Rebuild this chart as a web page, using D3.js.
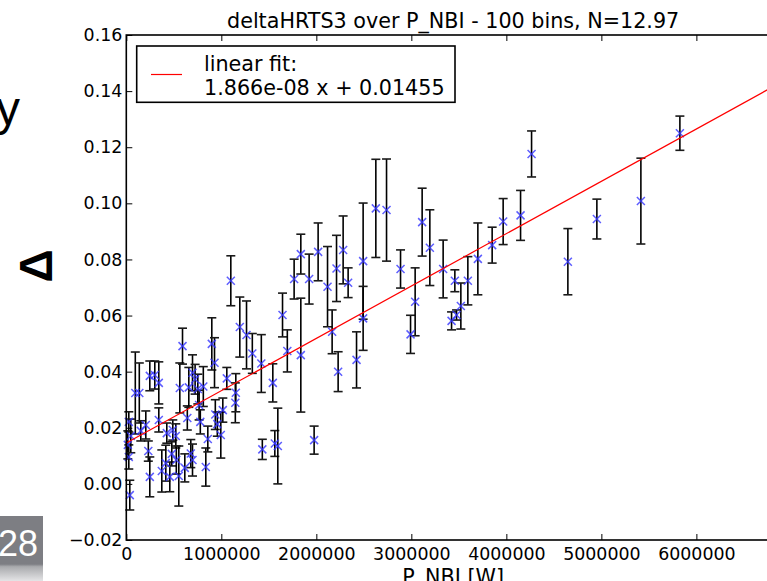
<!DOCTYPE html>
<html>
<head>
<meta charset="utf-8">
<script src="https://cdn.jsdelivr.net/npm/d3@7"></script>
<style>
  html, body { margin: 0; padding: 0; background: #fff; overflow: hidden; }
  svg { display: block; }
</style>
</head>
<body>
<svg id="chart" width="767" height="581"></svg>
<script>
// Binned deltaHRTS3 against neutral-beam power, with per-bin standard errors.
const pnbi = [
  26300, 26300, 36800, 94700, 136800, 152600, 205300, 231600, 247400, 247400,
  300000, 342100, 342100, 373700, 415800, 426300, 457900, 478900, 489500, 521100,
  526300, 552600, 563200, 591600, 615800, 642100, 657900, 678900, 696800, 696800,
  724200, 752600, 810500, 766300, 778900, 836800, 857900, 900000, 928400, 936800,
  957900, 994700, 1015800, 1057900, 1147400, 1152600, 1194700, 1265300, 1100000, 1326300,
  1421100, 1431600, 1542100, 1563200, 1594700, 1644200, 1694700, 1766300, 1836800, 1836800,
  1924200, 2018900, 1976800, 2117900, 2166300, 2212600, 2229500, 2282100, 2334700, 2423200,
  2492600, 2492600, 2626300, 2738900, 2886300, 2991600, 3040000, 3113700, 3194700, 3334700,
  3423200, 3475800, 3457900, 3521100, 3594700, 3700000, 3850500, 3966300, 4149500, 4265300,
  4647400, 4952600, 5415800, 5826300, 15800, 47400
];
const delta = [
  0.0221, 0.0096, -0.0040, 0.0324, 0.0324, 0.0189, 0.0210, 0.0117, 0.0025, 0.0385,
  0.0388, 0.0360, 0.0228, 0.0046, 0.0074, 0.0181, 0.0025, 0.0107, 0.0192, 0.0171,
  0.0085, 0.0028, 0.0342, 0.0491, 0.0057, 0.0235, 0.0344, 0.0108, 0.0085, 0.0396,
  0.0373, 0.0338, 0.0347, 0.0281, 0.0221, 0.0060, 0.0160, 0.0499, 0.0432, 0.0247,
  0.0213, 0.0174, 0.0263, 0.0376, 0.0289, 0.0325, 0.0559, 0.0531, 0.0724, 0.0465,
  0.0429, 0.0123, 0.0360, 0.0144, 0.0135, 0.0602, 0.0474, 0.0730, 0.0819, 0.0459,
  0.0730, 0.0827, 0.0156, 0.0703, 0.0542, 0.0768, 0.0400, 0.0834, 0.0717, 0.0442,
  0.0794, 0.0590, 0.0982, 0.0976, 0.0766, 0.0533, 0.0649, 0.0933, 0.0842, 0.0766,
  0.0581, 0.0602, 0.0724, 0.0634, 0.0724, 0.0802, 0.0851, 0.0935, 0.0957, 0.1176,
  0.0792, 0.0944, 0.1008, 0.1250, 0.0139, 0.0171
];
const deltaErr = [
  0.0036, 0.0043, 0.0053, 0.0146, 0.0107, 0.0036, 0.0050, 0.0036, 0.0071, 0.0053,
  0.0050, 0.0075, 0.0043, 0.0075, 0.0064, 0.0036, 0.0053, 0.0043, 0.0036, 0.0043,
  0.0050, 0.0107, 0.0089, 0.0064, 0.0050, 0.0043, 0.0071, 0.0050, 0.0057, 0.0064,
  0.0053, 0.0053, 0.0071, 0.0053, 0.0043, 0.0068, 0.0046, 0.0093, 0.0089, 0.0053,
  0.0043, 0.0082, 0.0043, 0.0039, 0.0071, 0.0068, 0.0107, 0.0121, 0.0089, 0.0071,
  0.0103, 0.0036, 0.0068, 0.0046, 0.0135, 0.0078, 0.0075, 0.0071, 0.0071, 0.0203,
  0.0089, 0.0103, 0.0050, 0.0143, 0.0078, 0.0118, 0.0071, 0.0121, 0.0053, 0.0100,
  0.0207, 0.0114, 0.0175, 0.0182, 0.0068, 0.0068, 0.0121, 0.0121, 0.0135, 0.0103,
  0.0032, 0.0018, 0.0039, 0.0082, 0.0086, 0.0128, 0.0064, 0.0082, 0.0089, 0.0082,
  0.0118, 0.0071, 0.0153, 0.0061, 0.0050, 0.0060
];

const xTicks = [0, 1000000, 2000000, 3000000, 4000000, 5000000, 6000000];
const yTicks = [-0.02, 0.00, 0.02, 0.04, 0.06, 0.08, 0.10, 0.12, 0.14, 0.16];
const xDomain = [0, 6880000];
const yDomain = [-0.02, 0.16];

const fitSlope = 1.866e-8;
const fitIntercept = 0.01455;

const titleText = "deltaHRTS3 over P_NBI - 100 bins, N=12.97";
const xLabelText = "P_NBI [W]";
const legendLines = ["linear fit:", "1.866e-08 x + 0.01455"];
const pageNumber = "28";

const svg = d3.select("#chart");
const plot = { left: 126.3, top: 35, right: 780, bottom: 540 };
const FONT = "'DejaVu Sans', sans-serif";

const x = d3.scaleLinear().domain(xDomain).range([plot.left, plot.right]);
const y = d3.scaleLinear().domain(yDomain).range([plot.bottom, plot.top]);

// slide furniture around the figure
const defs = svg.append("defs");
const grad = defs.append("linearGradient").attr("id", "pageBox")
  .attr("x1", 0).attr("y1", 0).attr("x2", 0).attr("y2", 1);
grad.append("stop").attr("offset", "0").attr("stop-color", "#7d7e83");
grad.append("stop").attr("offset", "0.74").attr("stop-color", "#7d7e83");
grad.append("stop").attr("offset", "0.78").attr("stop-color", "#a9aaad");
grad.append("stop").attr("offset", "1").attr("stop-color", "#e4e4e6");
svg.append("rect").attr("x", 0).attr("y", 516).attr("width", 43).attr("height", 65)
  .attr("fill", "url(#pageBox)");
svg.append("text").attr("x", 38).attr("y", 556).attr("text-anchor", "end")
  .attr("font-family", "'Liberation Sans', Arial, sans-serif").attr("font-size", 36)
  .attr("fill", "#fff").text(pageNumber);

svg.append("text").attr("x", 20).attr("y", 125).attr("text-anchor", "end")
  .attr("font-family", "'Liberation Sans', Arial, sans-serif").attr("font-size", 48)
  .attr("fill", "#000").text("y");

svg.append("text")
  .attr("transform", "translate(52,266) rotate(-90)")
  .attr("text-anchor", "middle")
  .attr("font-family", "'Liberation Sans', Arial, sans-serif").attr("font-size", 46)
  .attr("font-weight", "bold").attr("fill", "#000").text("Δ");

// axes
const xFmt = d3.format("d");
const yFmt = d3.format(".2f");

const gx = svg.append("g").attr("transform", `translate(0,${plot.bottom})`)
  .call(d3.axisBottom(x).tickValues(xTicks).tickFormat(xFmt)
    .tickSizeInner(-6).tickSizeOuter(0).tickPadding(8));
const gy = svg.append("g").attr("transform", `translate(${plot.left},0)`)
  .call(d3.axisLeft(y).tickValues(yTicks).tickFormat(yFmt)
    .tickSizeInner(-6).tickSizeOuter(0).tickPadding(4));
const gxTop = svg.append("g").attr("transform", `translate(0,${plot.top})`)
  .call(d3.axisTop(x).tickValues(xTicks).tickFormat("")
    .tickSizeInner(-6).tickSizeOuter(0));
const gyRight = svg.append("g").attr("transform", `translate(${plot.right},0)`)
  .call(d3.axisRight(y).tickValues(yTicks).tickFormat("")
    .tickSizeInner(-6).tickSizeOuter(0));

[gx, gy, gxTop, gyRight].forEach(g => {
  g.select(".domain").remove();
  g.selectAll(".tick line").attr("stroke", "#000").attr("stroke-width", 1);
  g.selectAll(".tick text").attr("font-family", FONT).attr("font-size", 17.4)
    .attr("fill", "#000");
});

// bins: error bars first, then markers
const bins = pnbi.map((p, i) => ({ p, d: delta[i], e: deltaErr[i] }));
const bars = svg.append("g").attr("class", "errorbars");
const capHalf = 4.5;
bins.forEach(b => {
  const cx = x(b.p), y0 = y(b.d - b.e), y1 = y(b.d + b.e);
  bars.append("line").attr("x1", cx).attr("x2", cx).attr("y1", y0).attr("y2", y1)
    .attr("stroke", "#000").attr("stroke-width", 1.6);
  [y0, y1].forEach(yy => bars.append("line")
    .attr("x1", cx - capHalf).attr("x2", cx + capHalf).attr("y1", yy).attr("y2", yy)
    .attr("stroke", "#1a1a1a").attr("stroke-width", 1.6));
});

svg.append("g").attr("class", "markers").selectAll("path").data(bins).join("path")
  .attr("transform", b => `translate(${x(b.p)},${y(b.d)})`)
  .attr("d", "M-4,-4L4,4M-4,4L4,-4")
  .attr("stroke", "#3434ff").attr("stroke-opacity", 0.8).attr("stroke-width", 1.5)
  .attr("fill", "none");

// linear fit across the full x range
const fitLine = d3.line().x(d => x(d)).y(d => y(fitSlope * d + fitIntercept));
svg.append("path").datum(xDomain).attr("d", fitLine)
  .attr("stroke", "#ff0000").attr("stroke-width", 1.2).attr("fill", "none");

// frame
svg.append("rect").attr("x", plot.left).attr("y", plot.top)
  .attr("width", plot.right - plot.left).attr("height", plot.bottom - plot.top)
  .attr("fill", "none").attr("stroke", "#000").attr("stroke-width", 1.6);

// title and x label
const midX = (plot.left + plot.right) / 2;
svg.append("text").attr("x", midX).attr("y", 28).attr("text-anchor", "middle")
  .attr("font-family", FONT).attr("font-size", 20.7).attr("fill", "#000").text(titleText);
svg.append("text").attr("x", midX).attr("y", 584).attr("text-anchor", "middle")
  .attr("font-family", FONT).attr("font-size", 20.7).attr("fill", "#000").text(xLabelText);

// legend
const lg = svg.append("g").attr("class", "legend");
lg.append("rect").attr("x", 136.7).attr("y", 46).attr("width", 318.3).attr("height", 56.3)
  .attr("fill", "#fff").attr("stroke", "#000").attr("stroke-width", 1.6);
lg.append("line").attr("x1", 151).attr("x2", 182).attr("y1", 74.5).attr("y2", 74.5)
  .attr("stroke", "#ff0000").attr("stroke-width", 1.2);
legendLines.forEach((t, i) => lg.append("text").attr("x", 204).attr("y", 70.5 + i * 24)
  .attr("font-family", FONT).attr("font-size", 20.7).attr("fill", "#000").text(t));
</script>
</body>
</html>
